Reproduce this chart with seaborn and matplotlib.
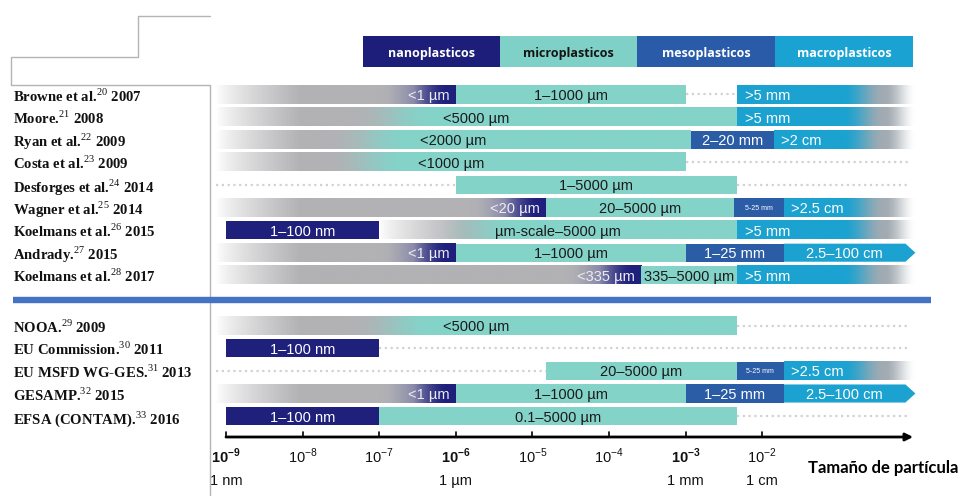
import numpy as np
import matplotlib
matplotlib.use("Agg")
import matplotlib.pyplot as plt
import matplotlib.transforms as mtransforms
from matplotlib.colors import to_rgb
from matplotlib.patches import Polygon, Rectangle
from matplotlib.lines import Line2D
import seaborn as sns

sns.set_theme(style="white")
plt.rcParams['font.family'] = ['Liberation Sans', 'DejaVu Sans']
plt.rcParams['mathtext.fontset'] = 'custom'
plt.rcParams['mathtext.rm'] = 'Liberation Serif'
plt.rcParams['mathtext.sf'] = 'Liberation Sans'
plt.rcParams['mathtext.bf'] = 'Liberation Sans:bold'

# ---------------- data ----------------
study_names = ["Browne et al.", "Moore.", "Ryan et al.", "Costa et al.", "Desforges et al.",
               "Wagner et al.", "Koelmans et al.", "Andrady.", "Koelmans et al.",
               "NOOA.", "EU Commission.", "EU MSFD WG-GES.", "GESAMP.", "EFSA (CONTAM)."]
study_refs = ["20", "21", "22", "23", "24", "25", "26", "27", "28", "29", "30", "31", "32", "33"]
study_years = ["2007", "2008", "2009", "2009", "2014", "2014", "2015", "2015", "2017",
               "2009", "2011", "2013", "2015", "2016"]
study_group = [0, 0, 0, 0, 0, 0, 0, 0, 0, 1, 1, 1, 1, 1]

header_names = ["nanoplasticos", "microplasticos", "mesoplasticos", "macroplasticos"]
header_start = [-7.21, -5.42, -3.63, -1.83]   # log10(m)
header_end = [-5.42, -3.63, -1.83, -0.03]

# segments: row index, kind, start/end in log10(metres), label
seg_row = [0, 0, 0, 0,
           1, 1,
           2, 2, 2,
           3, 3,
           4, 4, 4,
           5, 5, 5, 5,
           6, 6, 6,
           7, 7, 7, 7,
           8, 8, 8,
           9, 9,
           10, 10,
           11, 11, 11, 11,
           12, 12, 12, 12,
           13, 13, 13]
seg_kind = ["g2n", "micro", "dots", "macrofade",
            "g2t", "macrofade",
            "g2t", "meso", "macrofade",
            "g2t", "dots",
            "dots", "micro", "dots",
            "g2n", "micro", "meso", "macrofade",
            "nano", "g2t", "macrofade",
            "g2n", "micro", "meso", "macroarrow",
            "g2n", "micro", "macrofade",
            "g2t", "dots",
            "nano", "dots",
            "dots", "micro", "meso", "macrofade",
            "g2n", "micro", "meso", "macroarrow",
            "nano", "micro", "dots"]
seg_start = [-9.13, -6.0, -3.0, -2.33,
             -9.13, -2.33,
             -9.13, -2.93, -1.85,
             -9.13, -3.0,
             -9.13, -6.0, -2.33,
             -9.13, -4.82, -2.37, -1.72,
             -9.0, -7.0, -2.33,
             -9.13, -6.0, -3.0, -1.72,
             -9.13, -3.58, -2.33,
             -9.13, -2.33,
             -9.0, -7.0,
             -9.13, -4.82, -2.33, -1.72,
             -9.13, -6.0, -3.0, -1.72,
             -9.0, -7.0, -2.33]
seg_end = [-6.0, -3.0, -2.33, 0.0,
           -2.33, 0.0,
           -2.93, -1.85, 0.0,
           -3.0, -0.07,
           -6.0, -2.33, -0.07,
           -4.82, -2.37, -1.72, 0.0,
           -7.0, -2.33, 0.0,
           -6.0, -3.0, -1.72, 0.0,
           -3.58, -2.33, 0.0,
           -2.33, -0.07,
           -7.0, -0.07,
           -4.82, -2.33, -1.72, 0.0,
           -6.0, -3.0, -1.72, 0.0,
           -7.0, -2.33, -0.07]
seg_label = ["<1 µm", "1–1000 µm", "", ">5 mm",
             "<5000 µm", ">5 mm",
             "<2000 µm", "2–20 mm", ">2 cm",
             "<1000 µm", "",
             "", "1–5000 µm", "",
             "<20 µm", "20–5000 µm", "5-25 mm", ">2.5 cm",
             "1–100 nm", "µm-scale–5000 µm", ">5 mm",
             "<1 µm", "1–1000 µm", "1–25 mm", "2.5–100 cm",
             "<335 µm", "335–5000 µm", ">5 mm",
             "<5000 µm", "",
             "1–100 nm", "",
             "", "20–5000 µm", "5-25 mm", ">2.5 cm",
             "<1 µm", "1–1000 µm", "1–25 mm", "2.5–100 cm",
             "1–100 nm", "0.1–5000 µm", ""]

tick_exponents = [-9, -8, -7, -6, -5, -4, -3, -2]
tick_bold = [True, False, False, True, False, False, True, False]
unit_labels = ["1 nm", "1 µm", "1 mm", "1 cm"]
unit_exponents = [-9, -6, -3, -2]
axis_title = "Tamaño de partícula"

# ---------------- styles ----------------
C_NANO = "#1e207c"
C_MICRO = "#84d3c9"
C_MESO = "#2b5ca6"
C_MACRO = "#1ba2d0"
C_GRAY = "#b2b2b5"
HEADER_COLORS = ["#1d1e7a", "#7fd0c6", "#2a5ba8", "#1aa3d2"]
HEADER_TEXT = ["white", "#151515", "white", "white"]

W, H = 963, 496
PX_DEC = 76.6          # pixels per decade
X0_PX = 226            # pixel of 1e-9
ROW0_PX = 94.5
ROW_PX = 22.6
GROUP_GAP = 1.23
BAR_H = 0.8

fig = plt.figure(figsize=(W / 100, H / 100), dpi=100)
fig.patch.set_facecolor("white")
ax = fig.add_axes([0, 0, 1, 1])
ax.set_xlim(-9 - X0_PX / PX_DEC, -9 + (W - X0_PX) / PX_DEC)
ax.set_ylim((H - ROW0_PX) / ROW_PX, -ROW0_PX / ROW_PX)
ax.axis("off")

row_y = [i + GROUP_GAP * g for i, g in enumerate(study_group)]


def smooth(t):
    t = np.clip(t, 0, 1)
    return t * t * (3 - 2 * t)


def mix(a, b, t):
    return a[None, :] * (1 - t[:, None]) + b[None, :] * t[:, None]


white = np.array(to_rgb("white"))
gray = np.array(to_rgb(C_GRAY))


def gradient_colors(kind, x0, x1, xs):
    if kind in ("g2n", "g2t"):
        end = np.array(to_rgb(C_NANO if kind == "g2n" else C_MICRO))
        if kind == "g2n":
            t = smooth((xs - (x1 - 1.0)) / 0.9)
            mid = np.array(to_rgb("#8a8aaa"))
            col = np.where((t < 0.5)[:, None], mix(gray, mid, np.clip(t * 2, 0, 1)),
                           mix(mid, end, np.clip((t - 0.5) * 2, 0, 1)))
        else:
            c = (x0 + x1) / 2
            t = smooth((xs - (c - 1.6)) / 1.0)
            col = mix(gray, end, t)
        w = np.clip((xs - x0) / 1.1, 0, 1) ** 0.8
        return white[None, :] * (1 - w[:, None]) + col * w[:, None]
    # macro fade
    cy = np.array(to_rgb(C_MACRO))
    g2 = np.array(to_rgb("#a3abb2"))
    t1 = smooth((xs - (x1 - 0.95)) / 0.55)
    col = mix(cy, g2, t1)
    t2 = smooth((xs - (x1 - 0.4)) / 0.4)
    return col * (1 - t2[:, None]) + white[None, :] * t2[:, None]


label_fs = 10.5
for r, kind, x0, x1, lab in zip(seg_row, seg_kind, seg_start, seg_end, seg_label):
    y = row_y[r]
    fs = 5 if (x1 - x0) < 0.7 else label_fs
    if kind == "dots":
        ax.plot([x0, x1], [y, y], color="#d2d2d2", lw=1.6, ls=(0, (1, 1.6)), zorder=1)
        continue
    if kind in ("g2n", "g2t", "macrofade"):
        xs = np.linspace(x0, x1, 500)
        cols = gradient_colors(kind, x0, x1, xs)
        ax.imshow(cols[None, :, :], extent=(x0, x1, y + BAR_H / 2, y - BAR_H / 2),
                  aspect="auto", interpolation="bilinear", zorder=2)
        if kind == "g2n":
            ax.text(x1 - 0.08, y, lab, ha="right", va="center_baseline",
                    color="#ececf4", fontsize=fs, zorder=5)
        elif kind == "g2t":
            ax.text((x0 + x1) / 2, y, lab, ha="center", va="center_baseline",
                    color="#1a1a1a", fontsize=fs, zorder=5)
        else:
            ax.text(x0 + 0.1, y, lab, ha="left", va="center_baseline",
                    color="white", fontsize=fs, zorder=5)
        continue
    if kind == "macroarrow":
        tip = 0.13
        poly = Polygon([(x0, y - BAR_H / 2), (x1 - tip, y - BAR_H / 2), (x1, y),
                        (x1 - tip, y + BAR_H / 2), (x0, y + BAR_H / 2)],
                       closed=True, facecolor=C_MACRO, edgecolor="none", zorder=2)
        ax.add_patch(poly)
        ax.text((x0 + x1 - tip) / 2, y, lab, ha="center", va="center_baseline",
                color="white", fontsize=fs, zorder=5)
        continue
    color = {"nano": C_NANO, "micro": C_MICRO, "meso": C_MESO}[kind]
    tcol = "#1a1a1a" if kind == "micro" else "white"
    ax.barh(y, x1 - x0, left=x0, height=BAR_H, color=color, edgecolor="none", zorder=3)
    ax.text((x0 + x1) / 2, y, lab, ha="center", va="center_baseline",
            color=tcol, fontsize=fs, zorder=5)

# header boxes
head_y = (52 - ROW0_PX) / ROW_PX
head_h = 31 / ROW_PX
for name, x0, x1, c, tc in zip(header_names, header_start, header_end, HEADER_COLORS, HEADER_TEXT):
    ax.add_patch(Rectangle((x0, head_y - head_h / 2), x1 - x0, head_h,
                           facecolor=c, edgecolor="none", zorder=3))
    ax.text((x0 + x1) / 2, head_y, name, ha="center", va="center_baseline",
            color=tc, fontsize=9, fontweight="bold", family=["Open Sans", "DejaVu Sans"], zorder=5)

# study labels
lab_tr = mtransforms.blended_transform_factory(fig.transFigure, ax.transData)
for name, ref, yr, y in zip(study_names, study_refs, study_years, row_y):
    ax.text(13 / W, y, f"{name}$^{{\\mathrm{{{ref}}}}}$ {yr}", transform=lab_tr,
            ha="left", va="center_baseline", fontsize=10.6, fontweight="bold",
            family=["Liberation Serif", "DejaVu Serif"], color="#111111")

# x axis with arrow
axis_y = (437 - ROW0_PX) / ROW_PX
ax.annotate("", xy=(tick_exponents[0] + 8.97, axis_y), xytext=(tick_exponents[0], axis_y),
            arrowprops=dict(arrowstyle="-|>", lw=2, color="black", mutation_scale=11,
                            shrinkA=0, shrinkB=0), zorder=4)
for e, b in zip(tick_exponents, tick_bold):
    ax.plot([e, e], [axis_y, axis_y - 0.2], color="black", lw=1.2, zorder=4)
    if b:
        s = f"10$^{{\\mathbf{{{e}}}}}$"
    else:
        s = f"10$^{{\\mathsf{{{e}}}}}$"
    ax.text(e, axis_y + 0.8, s, ha="center", va="center_baseline", fontsize=10.5,
            fontweight="bold" if b else "normal", color="#111111")
for u, e in zip(unit_labels, unit_exponents):
    ax.text(e, axis_y + 1.9, u, ha="center", va="center_baseline", fontsize=10.5, color="#111111")
ax.text(-9 + (808 - X0_PX) / PX_DEC, axis_y + 1.3, axis_title, ha="left", va="center_baseline",
        fontsize=12, fontweight="bold", family=["Lato", "DejaVu Sans"], color="black")

# separator line between groups
sep_y = 1 - 300 / H
fig.add_artist(Line2D([13 / W, 931 / W], [sep_y, sep_y], color="#4472c4", lw=4.6,
                      solid_capstyle="butt", zorder=6))

# frame lines of the left panel
fx = np.array([210, 138, 138, 11, 11, 210, 210]) / W
fy = 1 - np.array([16, 16, 57, 57, 85, 85, 496]) / H
fig.add_artist(Line2D(fx, fy, color="#b4b4b4", lw=1.0, zorder=1))

fig.savefig("out.png", dpi=100)
